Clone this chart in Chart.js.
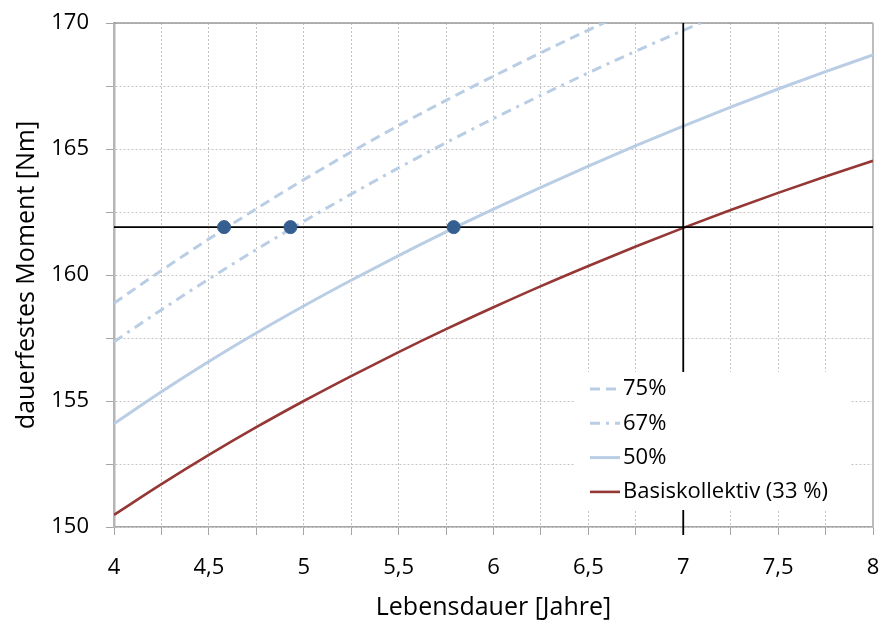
<!DOCTYPE html>
<html lang="de">
<head>
<meta charset="utf-8">
<title>Dauerfestes Moment</title>
<script src="https://cdn.jsdelivr.net/npm/chart.js@4.4.1/dist/chart.umd.min.js"></script>
<style>
  html, body { margin: 0; padding: 0; background: #fff; }
</style>
</head>
<body>
<canvas id="moment" width="881" height="626"></canvas>
<script>
// Lebensdauer [Jahre] (x-Werte der Kurven)
const lebensdauer = [4, 4.25, 4.5, 4.75, 5, 5.25, 5.5, 5.75, 6, 6.25, 6.5, 6.75, 7, 7.25, 7.5, 7.75, 8];

// dauerfestes Moment [Nm] je Kollektiv
const basis = [150.48, 151.70, 152.86, 153.96, 155.0, 155.99, 156.94, 157.85, 158.72, 159.56, 160.36, 161.13, 161.87, 162.58, 163.26, 163.91, 164.53];
const p50 = [154.1, 155.37, 156.57, 157.7, 158.77, 159.79, 160.77, 161.71, 162.61, 163.48, 164.32, 165.13, 165.91, 166.66, 167.38, 168.07, 168.73];
const p67 = [157.35, 158.62, 159.84, 161.01, 162.13, 163.21, 164.25, 165.25, 166.21, 167.13, 168.02, 168.88, 169.71, 170.51];
const p75 = [158.88, 160.18, 161.43, 162.63, 163.78, 164.88, 165.93, 166.93, 167.89, 168.82, 169.72, 170.59];

// Schnittpunkte mit dem Referenzmoment
const schnittDauer = [4.58, 4.93, 5.79];
const refMoment = 161.9;
const refDauer = 7;
const refDauerVon = 149.68; // Linie reicht knapp unter die Achse
const refDauerBis = 170;

const hellblau = "#b9cde5";
const rot = "#953735";
const punktblau = "#355f91";

function punkte(werte) {
  return werte.map((y, i) => ({ x: lebensdauer[i], y: y }));
}

Chart.defaults.font.family = "'Open Sans', sans-serif";
Chart.defaults.color = "#000";

// Legende innerhalb der Zeichenfläche (weißer Kasten)
const legendeImPlot = {
  id: "legendeImPlot",
  afterDatasetsDraw(chart) {
    const { ctx, chartArea } = chart;
    const breite = 275;
    const hoehe = 138;
    const links = chartArea.right - 23 - breite;
    const oben = chartArea.bottom - 17 - hoehe;
    ctx.save();
    ctx.fillStyle = "#fff";
    ctx.fillRect(links, oben, breite, hoehe);
    const eintraege = chart.data.datasets.filter((ds) => ds.inLegende);
    eintraege.forEach((ds, i) => {
      const y = oben + 17 + i * 34.3;
      ctx.strokeStyle = ds.borderColor;
      ctx.lineWidth = ds.borderWidth;
      ctx.setLineDash(ds.borderDash || []);
      ctx.beginPath();
      ctx.moveTo(links + 15, y);
      ctx.lineTo(links + 45, y);
      ctx.stroke();
      ctx.setLineDash([]);
      ctx.fillStyle = "#000";
      ctx.font = "22px 'Open Sans'";
      ctx.textBaseline = "middle";
      ctx.textAlign = "left";
      ctx.fillText(ds.label, links + 48, y);
    });
    ctx.restore();
  },
};

// obere und rechte Rahmenlinie durchgezogen
const rahmen = {
  id: "rahmen",
  beforeDatasetsDraw(chart) {
    const { ctx, chartArea } = chart;
    ctx.save();
    ctx.strokeStyle = "#9a9a9a";
    ctx.lineWidth = 1.5;
    ctx.beginPath();
    ctx.moveTo(chartArea.left, chartArea.top);
    ctx.lineTo(chartArea.right, chartArea.top);
    ctx.stroke();
    ctx.strokeStyle = "#bdbdbd";
    ctx.lineWidth = 2;
    ctx.beginPath();
    ctx.moveTo(chartArea.right, chartArea.top);
    ctx.lineTo(chartArea.right, chartArea.bottom);
    ctx.stroke();
    ctx.restore();
  },
};

const kurve = {
  type: "line",
  pointRadius: 0,
  pointHoverRadius: 0,
  fill: false,
  cubicInterpolationMode: "monotone",
  borderCapStyle: "butt",
};

new Chart(document.getElementById("moment").getContext("2d"), {
  type: "line",
  data: {
    datasets: [
      {
        label: "Schnittpunkte",
        type: "scatter",
        data: schnittDauer.map((x) => ({ x: x, y: refMoment })),
        backgroundColor: punktblau,
        borderColor: punktblau,
        pointRadius: 6.5,
        showLine: false,
      },
      {
        ...kurve,
        label: "Referenzmoment",
        data: [{ x: lebensdauer[0], y: refMoment }, { x: lebensdauer[lebensdauer.length - 1], y: refMoment }],
        borderColor: "#000",
        borderWidth: 1.8,
        cubicInterpolationMode: "default",
      },
      {
        ...kurve,
        label: "Referenzdauer",
        data: [{ x: refDauer, y: refDauerBis }, { x: refDauer, y: refDauerVon }],
        borderColor: "#000",
        borderWidth: 1.8,
        cubicInterpolationMode: "default",
        clip: { left: 0, top: 0, right: 0, bottom: 12 },
      },
      {
        ...kurve,
        label: "75%",
        inLegende: true,
        data: punkte(p75),
        borderColor: hellblau,
        borderWidth: 3,
        borderDash: [10, 6],
      },
      {
        ...kurve,
        label: "67%",
        inLegende: true,
        data: punkte(p67),
        borderColor: hellblau,
        borderWidth: 3,
        borderDash: [10, 6, 3, 6],
      },
      {
        ...kurve,
        label: "50%",
        inLegende: true,
        data: punkte(p50),
        borderColor: hellblau,
        borderWidth: 3,
      },
      {
        ...kurve,
        label: "Basiskollektiv (33 %)",
        inLegende: true,
        data: punkte(basis),
        borderColor: rot,
        borderWidth: 2.6,
      },
    ],
  },
  options: {
    responsive: false,
    animation: false,
    events: [],
    layout: { padding: { top: 23, right: 8, bottom: 0, left: 0 } },
    plugins: {
      legend: { display: false },
      tooltip: { enabled: false },
    },
    scales: {
      x: {
        type: "linear",
        min: 4,
        max: 8,
        afterFit(scale) {
          scale.height = 99;
          scale.paddingLeft = 0;
          scale.paddingRight = 0;
        },
        ticks: {
          stepSize: 0.25,
          autoSkip: false,
          maxRotation: 0,
          padding: 20,
          font: { size: 22 },
          callback: (v) => (Math.abs(v * 2 - Math.round(v * 2)) < 1e-9 ? String(v).replace(".", ",") : ""),
        },
        grid: {
          color: "#c4c4c4",
          lineWidth: 1,
          tickLength: 8,
          tickColor: "#a6a6a6",
          tickWidth: 1,
        },
        border: { color: "#a6a6a6", width: 1.5, dash: [2, 2] },
        title: {
          display: true,
          text: "Lebensdauer [Jahre]",
          font: { size: 25 },
          padding: { top: 0, bottom: 3 },
        },
      },
      y: {
        min: 150,
        max: 170,
        afterFit(scale) {
          scale.width = 114;
          scale.paddingTop = 0;
          scale.paddingBottom = 0;
        },
        ticks: {
          stepSize: 2.5,
          padding: 17,
          font: { size: 22 },
          callback: (v) => (v % 5 === 0 ? String(v) : ""),
        },
        grid: {
          color: "#c4c4c4",
          lineWidth: 1,
          tickLength: 8,
          tickColor: "#a6a6a6",
          tickWidth: 1,
        },
        border: { color: "#b5b5b5", width: 2.5, dash: [2, 2] },
        title: {
          display: true,
          text: "dauerfestes Moment [Nm]",
          font: { size: 25 },
          padding: { top: 12, bottom: 0 },
        },
      },
    },
  },
  plugins: [rahmen, legendeImPlot],
});
</script>
</body>
</html>
